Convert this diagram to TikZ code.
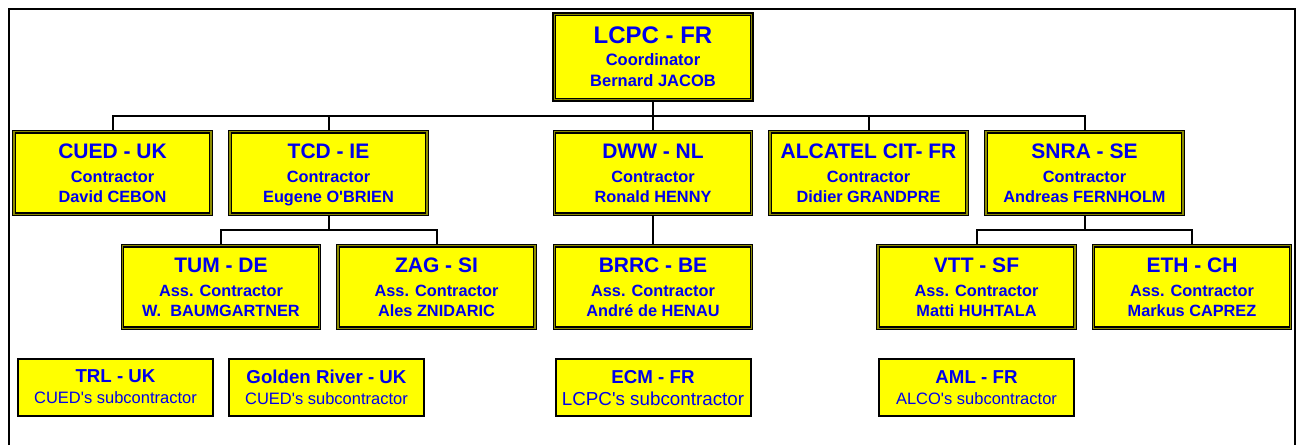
\documentclass[tikz,border=0pt]{standalone}
\usepackage{fontspec}
\setmainfont{Liberation Sans}
\definecolor{partnerblue}{RGB}{0,0,235}
\definecolor{boxyellow}{RGB}{255,255,0}
\definecolor{boxolive}{RGB}{140,140,0}
\newcommand{\partnertext}[3]{{\fontsize{21}{20}\selectfont #1}\\[4pt]#2\\#3}
\newcommand{\subtext}[2]{{\fontsize{18.7}{21}\selectfont\bfseries #1}\\#2}
\begin{document}
\begin{tikzpicture}[x=1pt, y=-1pt,
        partner/.style={draw=black, line width=1.2pt, double=boxolive, double distance=1.2pt,
            fill=boxyellow, text=partnerblue, align=center, inner sep=0pt, outer sep=1.8pt,
            text depth=0pt, minimum width=197pt, minimum height=82.4pt,
            font=\fontsize{16.3}{20}\selectfont\bfseries},
        leadpartner/.style={partner, line width=1.6pt, outer sep=2.2pt,
            minimum width=197.6pt, minimum height=85.6pt, font=\fontsize{16.5}{21}\selectfont\bfseries},
        subpartner/.style={draw=black, line width=2pt, fill=boxyellow, text=partnerblue,
            align=center, inner sep=0pt, outer sep=1pt, text depth=0pt,
            minimum width=195pt, minimum height=57pt, font=\fontsize{16.5}{21}\selectfont},
        link/.style={draw=black, line width=2pt},
        outerframe/.style={draw=black, line width=2pt}]
        \useasboundingbox (0,0) rectangle (1298,445);
        \draw[outerframe] (9,445) -- (9,9) -- (1295,9) -- (1295,445);

        \node[leadpartner] (lcpc) at (653,57) {{\fontsize{24}{21}\selectfont LCPC - FR}\\[1pt]Coordinator\\Bernard JACOB};

        \node[partner] (cued) at (112.5,173) {\partnertext{CUED - UK}{Contractor}{David CEBON}};
        \node[partner] (tcd) at (328.5,173) {\partnertext{TCD - IE}{Contractor}{Eugene O\textquotesingle BRIEN}};
        \node[partner] (dww) at (653,173) {\partnertext{DWW - NL}{Contractor}{Ronald HENNY}};
        \node[partner] (alcatel) at (868.5,173) {\partnertext{ALCATEL CIT- FR}{Contractor}{Didier GRANDPRE}};
        \node[partner] (snra) at (1084.5,173) {\partnertext{SNRA - SE}{Contractor}{Andreas FERNHOLM}};

        \node[partner] (tum) at (221,287) {\partnertext{TUM - DE}{Ass. Contractor}{W.\ \ BAUMGARTNER}};
        \node[partner] (zag) at (436.5,287) {\partnertext{ZAG - SI}{Ass. Contractor}{Ales ZNIDARIC}};
        \node[partner] (brrc) at (653,287) {\partnertext{BRRC - BE}{Ass. Contractor}{André de HENAU}};
        \node[partner] (vtt) at (976.5,287) {\partnertext{VTT - SF}{Ass. Contractor}{Matti HUHTALA}};
        \node[partner] (eth) at (1192,287) {\partnertext{ETH - CH}{Ass. Contractor}{Markus CAPREZ}};

        \node[subpartner] (trl) at (115.5,387) {\subtext{TRL - UK}{CUED\textquotesingle s subcontractor}};
        \node[subpartner] (golden) at (326.5,387) {\subtext{Golden River - UK}{CUED\textquotesingle s subcontractor}};
        \node[subpartner, font=\fontsize{18.8}{22}\selectfont] (ecm) at (653,387.5) {\subtext{ECM - FR}{LCPC\textquotesingle s subcontractor}};
        \node[subpartner] (aml) at (976.5,387.5) {\subtext{AML - FR}{ALCO\textquotesingle s subcontractor}};

        \draw[link] (lcpc.south) -- ++(0,14) -| (cued.north);
        \draw[link] (lcpc.south) -- ++(0,14) -| (tcd.north);
        \draw[link] (lcpc.south) -- (dww.north);
        \draw[link] (lcpc.south) -- ++(0,14) -| (alcatel.north);
        \draw[link] (lcpc.south) -- ++(0,14) -| (snra.north);
        \draw[link] (tcd.south) -- ++(0,14) -| (tum.north);
        \draw[link] (tcd.south) -- ++(0,14) -| (zag.north);
        \draw[link] (dww.south) -- (brrc.north);
        \draw[link] (snra.south) -- ++(0,14) -| (vtt.north);
        \draw[link] (snra.south) -- ++(0,14) -| (eth.north);
    \end{tikzpicture}
\end{document}
